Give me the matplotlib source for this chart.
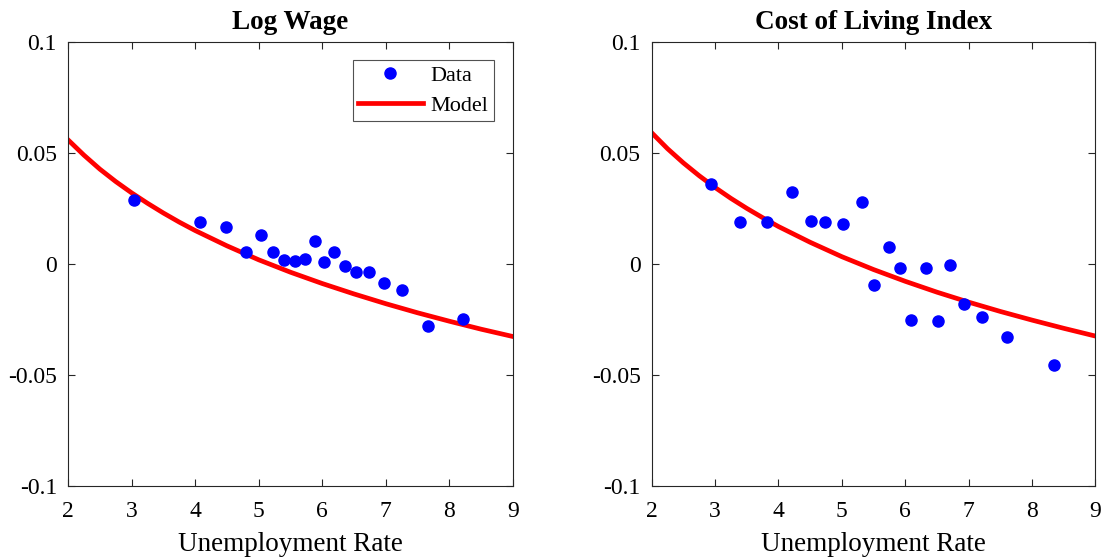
import matplotlib
matplotlib.use("Agg")
import matplotlib.pyplot as plt

plt.rcParams['font.family'] = ['Liberation Serif', 'DejaVu Serif']

# data points
wage_u = [3.04, 4.07, 4.49, 4.80, 5.03, 5.22, 5.40, 5.57, 5.73, 5.88,
          6.03, 6.19, 6.36, 6.53, 6.74, 6.97, 7.26, 7.66, 8.22]
wage_y = [0.0288, 0.0191, 0.0170, 0.0056, 0.0134, 0.0057, 0.0020, 0.0016,
          0.0025, 0.0106, 0.0012, 0.0054, -0.0006, -0.0033, -0.0036,
          -0.0085, -0.0117, -0.0279, -0.0245]

col_u = [2.94, 3.39, 3.82, 4.22, 4.51, 4.74, 5.02, 5.31, 5.50, 5.74,
         5.92, 6.09, 6.33, 6.52, 6.71, 6.92, 7.21, 7.61, 8.35]
col_y = [0.0363, 0.0192, 0.0192, 0.0327, 0.0197, 0.0189, 0.0182, 0.0282,
         -0.0094, 0.0077, -0.0015, -0.0252, -0.0018, -0.0256, -0.0002,
         -0.0181, -0.0238, -0.0330, -0.0454]

# model curves
model_u = [2, 2.25, 2.5, 2.75, 3, 3.25, 3.5, 3.75, 4, 4.5, 5, 5.5, 6, 6.5,
           7, 7.5, 8, 8.5, 9]
wage_model = [0.0561, 0.0492, 0.0429, 0.0373, 0.0322, 0.0275, 0.0231,
              0.0190, 0.0152, 0.0083, 0.0020, -0.0036, -0.0087, -0.0134,
              -0.0178, -0.0219, -0.0257, -0.0293, -0.0326]
col_model = [0.0593, 0.0521, 0.0457, 0.0399, 0.0346, 0.0297, 0.0252,
             0.0210, 0.0170, 0.0099, 0.0034, -0.0024, -0.0077, -0.0126,
             -0.0171, -0.0213, -0.0252, -0.0289, -0.0324]

xticks = [2, 3, 4, 5, 6, 7, 8, 9]
yticks = [-0.1, -0.05, 0, 0.05, 0.1]
ylabels = ['-0.1', '-0.05', '0', '0.05', '0.1']

fig = plt.figure(figsize=(11.01, 5.57), dpi=100)
ax1 = fig.add_axes([0.0618, 0.1275, 0.4041, 0.7962])
ax2 = fig.add_axes([0.5919, 0.1275, 0.4031, 0.7962])

panels = [(ax1, 'Log Wage', wage_u, wage_y, wage_model),
          (ax2, 'Cost of Living Index', col_u, col_y, col_model)]

for ax, title, u, y, m in panels:
    ax.plot(u, y, 'o', color='#0000ff', markersize=8, label='Data', zorder=3)
    ax.plot(model_u, m, '-', color='#ff0000', linewidth=3.4, label='Model',
            solid_joinstyle='round')
    ax.set_xlim(2, 9)
    ax.set_ylim(-0.1, 0.1)
    ax.set_xticks(xticks)
    ax.set_yticks(yticks)
    ax.set_yticklabels(ylabels)
    ax.tick_params(direction='in', top=True, right=True, labelsize=17,
                   length=5, width=0.8, color='#262626')
    ax.tick_params(axis='y', pad=8)
    ax.tick_params(axis='x', pad=11)
    for s in ax.spines.values():
        s.set_color('#262626')
        s.set_linewidth(0.8)
    ax.set_title(title, fontsize=19.5, fontweight='bold', pad=10)
    ax.set_xlabel('Unemployment Rate', fontsize=19.5, labelpad=7)

leg = ax1.legend(loc='upper right', fontsize=16, fancybox=False,
                 edgecolor='#262626', handlelength=2.9, handletextpad=0.35,
                 borderpad=0.25, labelspacing=0.4, borderaxespad=0,
                 bbox_to_anchor=(0.957, 0.9606))
leg.get_frame().set_linewidth(0.8)

fig.savefig('out.png', dpi=100)
